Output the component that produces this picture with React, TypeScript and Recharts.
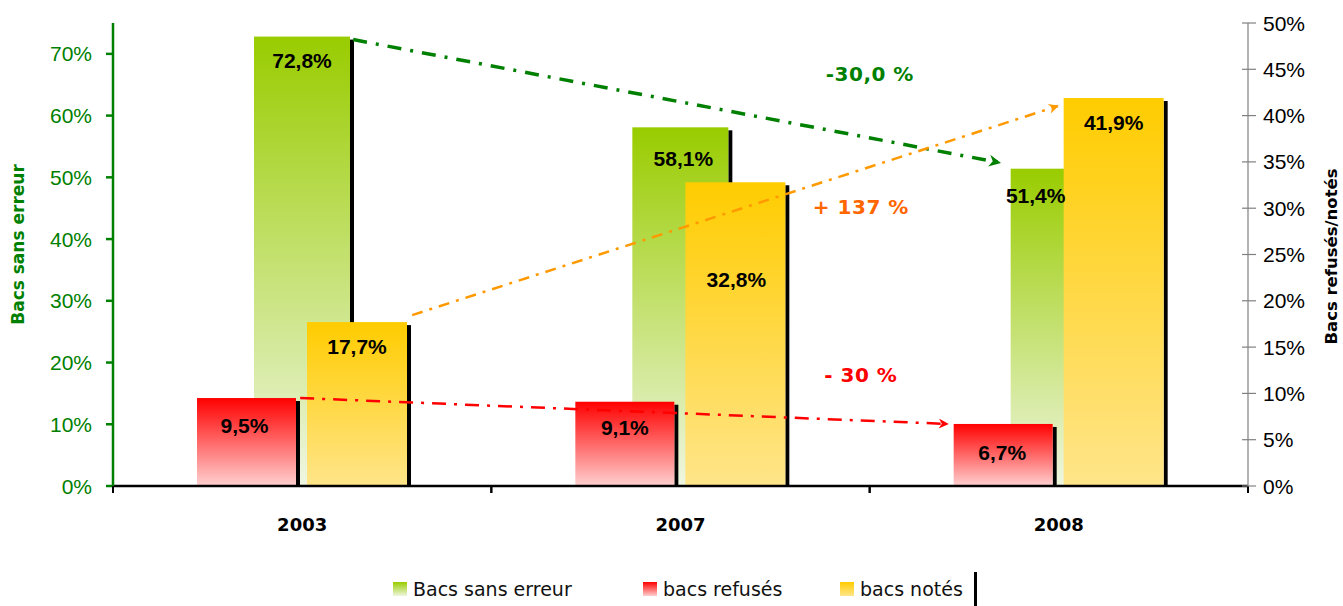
import { BarChart, Bar, XAxis, YAxis, Legend, LabelList, ReferenceLine } from "recharts";

document.body.style.margin = "0";

const years = ["2003", "2007", "2008"];
const sansErreur = [72.8, 58.1, 51.4];
const refuses = [9.5, 9.1, 6.7];
const notes = [17.7, 32.8, 41.9];
const seriesKeys = ["sansErreur", "refuses", "notes"];
const seriesNames = ["Bacs sans erreur", "bacs refusés", "bacs notés"];
const leftTicks = [0, 10, 20, 30, 40, 50, 60, 70];
const rightTicks = [0, 5, 10, 15, 20, 25, 30, 35, 40, 45, 50];
const evolutions = ["-30,0 %", "+ 137 %", "- 30 %"];

const data = years.map((year, i) => ({
  year,
  sansErreur: sansErreur[i],
  refuses: refuses[i],
  notes: notes[i],
}));

const last = years.length - 1;
const GREEN = "#008000";
const TITLE_FONT = "DejaVu Sans, Verdana, sans-serif";
const NUM_FONT = "Liberation Sans, Arial, sans-serif";

const fmt = (v: number) => `${v.toFixed(1).replace(".", ",")}%`;

// label nudges (dx, dy from bar top) to follow the original placement
const greenNudge = [[0, 24], [3, 31], [-23, 27]];
const redNudge = [[-2, 27], [0, 26], [-1, 29]];
const yellowNudge = [[0, 24], [1, 97], [0, 24]];

const valueLabel = (nudge: number[][]) => (props: any) => {
  const { x, y, width, value, index } = props;
  const [dx, dy] = nudge[index] || [0, 24];
  return (
    <text
      x={x + width / 2 + dx}
      y={y + dy}
      textAnchor="middle"
      dominantBaseline="central"
      fontFamily={NUM_FONT}
      fontWeight="bold"
      fontSize={21}
      fill="#000"
    >
      {fmt(value)}
    </text>
  );
};

const ShadowBar = (props: any) => {
  const { x, y, width, height, fill } = props;
  if (!height || height <= 0) return null;
  return (
    <g>
      <rect x={x + width} y={y + 3} width={4} height={height - 3} fill="#000" />
      <rect x={x} y={y} width={width} height={height} fill={fill} />
    </g>
  );
};

const YearTick = (props: any) => {
  const { x, y, payload } = props;
  const half = payload && payload.offset ? payload.offset : 189;
  return (
    <g>
      <line x1={x - half} x2={x - half} y1={y} y2={y + 7} stroke="#000" strokeWidth={2} />
      <line x1={x + half} x2={x + half} y1={y} y2={y + 7} stroke="#000" strokeWidth={2} />
      <text
        x={x}
        y={y + 38}
        textAnchor="middle"
        dominantBaseline="central"
        fontFamily={TITLE_FONT}
        fontWeight="bold"
        fontSize={18}
        fill="#000"
      >
        {payload.value}
      </text>
    </g>
  );
};

const LeftTick = (props: any) => {
  const { x, y, payload } = props;
  return (
    <text x={x} y={y} dy="0.36em" textAnchor="end" fontFamily={NUM_FONT} fontSize={21} fill={GREEN}>
      {payload.value}%
    </text>
  );
};

const RightTick = (props: any) => {
  const { x, y, payload } = props;
  return (
    <g>
      <line x1={x - 21} x2={x - 7} y1={y} y2={y} stroke="#808080" strokeWidth={1.2} />
      <text x={x} y={y} dy="0.36em" fontFamily={NUM_FONT} fontSize={21} fill="#000">
        {payload.value}%
      </text>
    </g>
  );
};

type ArrowCfg = {
  color: string;
  textColor: string;
  width: number;
  dash: string;
  marker: string;
  dx1: number;
  dy1: number;
  dx2: number;
  dy2: number;
  text: string;
  tx: number;
  ty: number;
  tyFrom: "start" | "end";
};

const arrowShape = (c: ArrowCfg) => (p: any) => {
  const x1 = p.x1 + c.dx1;
  const y1 = p.y1 + c.dy1;
  const x2 = p.x2 + c.dx2;
  const y2 = p.y2 + c.dy2;
  const ty = (c.tyFrom === "start" ? p.y1 : p.y2) + c.ty;
  return (
    <g>
      <line
        x1={x1}
        y1={y1}
        x2={x2}
        y2={y2}
        stroke={c.color}
        strokeWidth={c.width}
        strokeDasharray={c.dash}
        markerEnd={`url(#${c.marker})`}
      />
      <text
        x={p.x2 + c.tx}
        y={ty}
        textAnchor="middle"
        dominantBaseline="central"
        fontFamily={TITLE_FONT}
        fontWeight="bold"
        fontSize={20}
        letterSpacing={0.5}
        fill={c.textColor}
      >
        {c.text}
      </text>
    </g>
  );
};

const legendFills = [
  "linear-gradient(#99cc00, #eef6de)",
  "linear-gradient(#ff0000, #ffd0d0)",
  "linear-gradient(#ffcc00, #ffe58a)",
];
const legendLeft = [393, 643, 840];

const LegendBox = () => (
  <div style={{ position: "relative", width: 1343, height: 40 }}>
    {seriesNames.map((name, i) => (
      <div key={seriesKeys[i]} style={{ position: "absolute", left: legendLeft[i], top: 0 }}>
        <span
          style={{
            position: "absolute",
            left: 0,
            top: 16,
            width: 14,
            height: 14,
            background: legendFills[i],
          }}
        />
        <span
          style={{
            position: "absolute",
            left: 20,
            top: 11,
            whiteSpace: "nowrap",
            fontFamily: TITLE_FONT,
            fontSize: 19,
            lineHeight: "24px",
            color: "#111",
          }}
        >
          {name}
        </span>
      </div>
    ))}
    <div style={{ position: "absolute", left: 974, top: 6, width: 3, height: 34, background: "#000" }} />
  </div>
);

export default function App() {
  return (
    <BarChart
      width={1343}
      height={606}
      data={data}
      margin={{ top: 23, right: 0, bottom: 0, left: 0 }}
      barGap={11}
    >
      <defs>
        <linearGradient id="gGreen" x1="0" y1="0" x2="0" y2="1">
          <stop offset="0" stopColor="#99cc00" />
          <stop offset="1" stopColor="#eff6e1" />
        </linearGradient>
        <linearGradient id="gRed" x1="0" y1="0" x2="0" y2="1">
          <stop offset="0" stopColor="#ff0000" />
          <stop offset="1" stopColor="#ffd0d0" />
        </linearGradient>
        <linearGradient id="gYellow" x1="0" y1="0" x2="0" y2="1">
          <stop offset="0" stopColor="#ffcc00" />
          <stop offset="1" stopColor="#ffe58a" />
        </linearGradient>
        <marker id="mGreen" viewBox="0 0 10 10" refX="9" refY="5" markerUnits="userSpaceOnUse" markerWidth="14" markerHeight="12" orient="auto">
          <path d="M0,0 L10,5 L0,10 L3,5 z" fill={GREEN} />
        </marker>
        <marker id="mOrange" viewBox="0 0 10 10" refX="9" refY="5" markerUnits="userSpaceOnUse" markerWidth="11" markerHeight="10" orient="auto">
          <path d="M0,0 L10,5 L0,10 L3,5 z" fill="#ff9900" />
        </marker>
        <marker id="mRed" viewBox="0 0 10 10" refX="9" refY="5" markerUnits="userSpaceOnUse" markerWidth="11" markerHeight="10" orient="auto">
          <path d="M0,0 L10,5 L0,10 L3,5 z" fill="#ff0000" />
        </marker>
      </defs>

      <XAxis
        xAxisId="f"
        dataKey="year"
        height={120}
        interval={0}
        tickLine={false}
        tickSize={0}
        tickMargin={0}
        axisLine={{ stroke: "#000", strokeWidth: 2.5 }}
        tick={<YearTick />}
      />
      <XAxis xAxisId="b" dataKey="year" height={0} hide />

      <YAxis
        yAxisId="left"
        width={113}
        domain={[0, 75]}
        ticks={leftTicks}
        interval={0}
        tickSize={7}
        tickMargin={14}
        axisLine={{ stroke: GREEN, strokeWidth: 2.5 }}
        tickLine={{ stroke: GREEN, strokeWidth: 2.5 }}
        tick={<LeftTick />}
        label={(p: any) => {
          const vb = p.viewBox || { x: 0, y: 23, width: 113, height: 463 };
          const cx = vb.x + 18;
          const cy = vb.y + vb.height / 2 - 10;
          return (
            <text
              transform={`translate(${cx},${cy}) rotate(-90)`}
              textAnchor="middle"
              dominantBaseline="central"
              fontFamily={TITLE_FONT}
              fontWeight="bold"
              fontSize={17}
              fill={GREEN}
            >
              Bacs sans erreur
            </text>
          );
        }}
      />
      <YAxis
        yAxisId="right"
        orientation="right"
        width={95}
        domain={[0, 50]}
        ticks={rightTicks}
        interval={0}
        tickSize={6}
        tickMargin={9}
        tickLine={false}
        axisLine={{ stroke: "#808080", strokeWidth: 1.2 }}
        tick={<RightTick />}
        label={(p: any) => {
          const vb = p.viewBox || { x: 1248, y: 23, width: 95, height: 463 };
          const cx = vb.x + vb.width - 12;
          const cy = vb.y + vb.height / 2 + 2;
          return (
            <text
              transform={`translate(${cx},${cy}) rotate(-90)`}
              textAnchor="middle"
              dominantBaseline="central"
              fontFamily={TITLE_FONT}
              fontWeight="bold"
              fontSize={16.5}
              fill="#000"
            >
              Bacs refusés/notés
            </text>
          );
        }}
      />

      <Bar
        xAxisId="b"
        yAxisId="left"
        dataKey="sansErreur"
        name={seriesNames[0]}
        fill="url(#gGreen)"
        barSize={96}
        shape={<ShadowBar />}
        isAnimationActive={false}
      >
        <LabelList dataKey="sansErreur" content={valueLabel(greenNudge)} />
      </Bar>
      <Bar
        xAxisId="f"
        yAxisId="right"
        dataKey="refuses"
        name={seriesNames[1]}
        fill="url(#gRed)"
        barSize={99}
        shape={<ShadowBar />}
        isAnimationActive={false}
      >
        <LabelList dataKey="refuses" content={valueLabel(redNudge)} />
      </Bar>
      <Bar
        xAxisId="f"
        yAxisId="right"
        dataKey="notes"
        name={seriesNames[2]}
        fill="url(#gYellow)"
        barSize={100}
        shape={<ShadowBar />}
        isAnimationActive={false}
      >
        <LabelList dataKey="notes" content={valueLabel(yellowNudge)} />
      </Bar>

      <ReferenceLine
        xAxisId="f"
        yAxisId="left"
        ifOverflow="visible"
        segment={[
          { x: years[0], y: sansErreur[0] },
          { x: years[last], y: sansErreur[last] },
        ]}
        shape={arrowShape({
          color: GREEN,
          textColor: GREEN,
          width: 3.5,
          dash: "14 9 3 9",
          marker: "mGreen",
          dx1: 51,
          dy1: 3,
          dx2: -59,
          dy2: -6,
          text: evolutions[0],
          tx: -189,
          ty: 37,
          tyFrom: "start",
        })}
      />
      <ReferenceLine
        xAxisId="f"
        yAxisId="right"
        ifOverflow="visible"
        segment={[
          { x: years[0], y: notes[0] },
          { x: years[last], y: notes[last] },
        ]}
        shape={arrowShape({
          color: "#ff9900",
          textColor: "#ff6600",
          width: 2.5,
          dash: "11 7 3 7",
          marker: "mOrange",
          dx1: 110,
          dy1: -7,
          dx2: -1,
          dy2: 8,
          text: evolutions[1],
          tx: -198,
          ty: 109,
          tyFrom: "end",
        })}
      />
      <ReferenceLine
        xAxisId="f"
        yAxisId="right"
        ifOverflow="visible"
        segment={[
          { x: years[0], y: refuses[0] },
          { x: years[last], y: refuses[last] },
        ]}
        shape={arrowShape({
          color: "#ff0000",
          textColor: "#ff0000",
          width: 2.5,
          dash: "14 8 3 8",
          marker: "mRed",
          dx1: -2,
          dy1: 0,
          dx2: -111,
          dy2: 0,
          text: evolutions[2],
          tx: -198,
          ty: -23,
          tyFrom: "start",
        })}
      />

      <Legend
        layout="horizontal"
        align="center"
        verticalAlign="middle"
        wrapperStyle={{ left: 0, top: 566, width: 1343, height: 40 }}
        content={<LegendBox />}
      />
    </BarChart>
  );
}
